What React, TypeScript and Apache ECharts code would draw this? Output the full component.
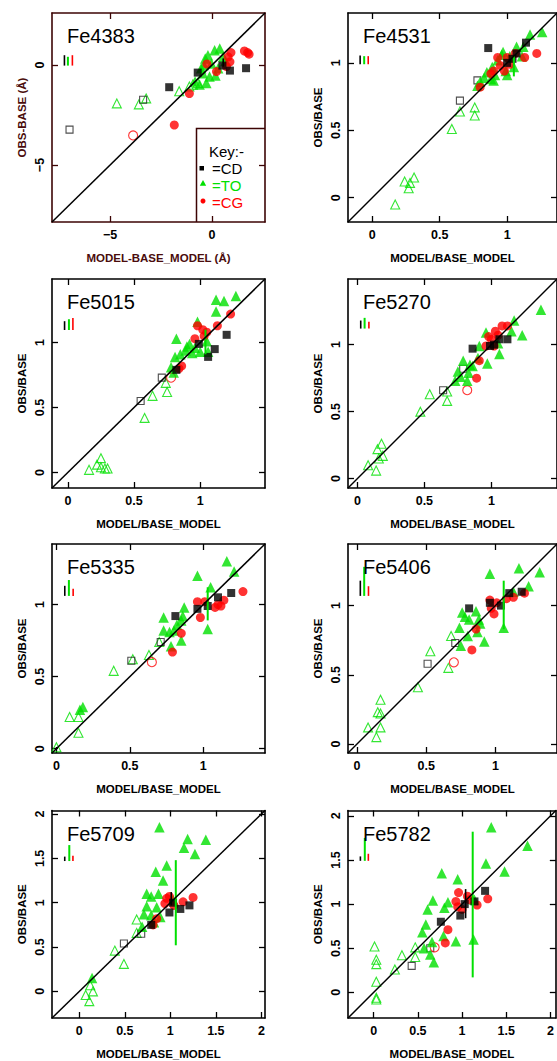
import React, { useEffect, useRef } from 'react';
import * as echarts from 'echarts';

const FONT = '"Liberation Sans", Arial, Helvetica, sans-serif';
const GREEN = '#00e000';
const RED = '#ff0000';
const BLACK = '#000000';
const MAROON = '#3c0404';
const MAROON_TXT = '#4a0c0c';

// ---------- panel meta ----------
const panelNames = ['Fe4383', 'Fe4531', 'Fe5015', 'Fe5270', 'Fe5335', 'Fe5406', 'Fe5709', 'Fe5782'];
const axisRanges = [
  [-7.85, 2.6], [-0.18, 1.37], [-0.12, 1.49], [-0.07, 1.49],
  [-0.03, 1.42], [-0.065, 1.445], [-0.3, 2.04], [-0.29, 2.06],
];
const tickValues = [
  [-5, 0], [0, 0.5, 1], [0, 0.5, 1], [0, 0.5, 1],
  [0, 0.5, 1], [0, 0.5, 1], [0, 0.5, 1, 1.5, 2], [0, 0.5, 1, 1.5, 2],
];
const xTitles = ['MODEL-BASE_MODEL (Å)', 'MODEL/BASE_MODEL', 'MODEL/BASE_MODEL', 'MODEL/BASE_MODEL',
  'MODEL/BASE_MODEL', 'MODEL/BASE_MODEL', 'MODEL/BASE_MODEL', 'MODEL/BASE_MODEL'];
const yTitles = ['OBS-BASE (Å)', 'OBS/BASE', 'OBS/BASE', 'OBS/BASE', 'OBS/BASE', 'OBS/BASE', 'OBS/BASE', 'OBS/BASE'];
const keyLabels = ['Key:-', '=CD', '=TO', '=CG'];

// ---------- data: CD = squares, TO = triangles, CG = circles; *Open = open symbols ----------
// error bars: [x, low, high, group(0=CD,1=TO,2=CG)]
const fe4383CD = [[-2.10, -1.11], [-0.70, -0.38], [0.51, -0.03], [0.88, -0.28], [1.67, -0.16]];
const fe4383CDOpen = [[-6.99, -3.23], [-3.38, -1.74]];
const fe4383TO = [[0.13, 0.74], [0.38, 0.82], [-0.20, 0.49], [0.55, 0.41], [-0.03, 0.08], [-0.40, 0.0], [-0.45, -0.41],
  [-0.12, -0.57], [0.17, -0.52], [-0.28, -0.90], [-0.61, -0.98], [-0.83, -0.82], [-0.53, -0.16], [0.30, -0.16], [0.66, 0.20], [-0.33, 0.33]];
const fe4383TOOpen = [[-4.67, -1.92], [-3.59, -1.97], [-3.23, -1.67], [-1.61, -1.31], [-1.11, -1.07], [-0.94, -0.98], [-0.70, -0.90]];
const fe4383CG = [[-1.11, -1.43], [-1.85, -3.0], [-0.25, 0.05], [0.22, -0.33], [0.79, 0.41], [0.93, 0.62], [0.88, 0.16],
  [1.59, 0.70], [1.75, 0.62], [1.82, 0.54], [0.71, -0.08]];
const fe4383CGOpen = [[-3.87, -3.52]];
const fe4383Err = [[-7.24, -0.03, 0.49, 0], [-7.07, -0.03, 0.41, 1], [-6.85, -0.03, 0.49, 2], [0.55, -0.08, 0.33, 0]];

const fe4531CD = [[0.86, 1.11], [1.0, 1.0], [1.04, 1.03], [1.07, 1.07], [1.14, 1.15]];
const fe4531CDOpen = [[0.65, 0.72], [0.78, 0.87]];
const fe4531TO = [[1.17, 1.21], [1.26, 1.23], [1.12, 1.12], [1.11, 1.05], [0.96, 1.06], [0.93, 1.02], [0.99, 0.94], [1.0, 0.91],
  [1.05, 0.97], [0.85, 0.93], [0.89, 0.97], [0.80, 0.86], [0.78, 0.83], [0.83, 0.89], [0.90, 0.87], [1.02, 1.05], [0.97, 1.08],
  [1.07, 1.12], [0.91, 0.91], [0.88, 0.88]];
const fe4531TOOpen = [[0.17, -0.05], [0.24, 0.12], [0.27, 0.07], [0.28, 0.11], [0.31, 0.15], [0.59, 0.51], [0.65, 0.64], [0.76, 0.67], [0.76, 0.61]];
const fe4531CG = [[1.22, 1.07], [1.13, 1.04], [0.95, 0.98], [0.98, 0.94], [1.06, 1.07], [0.93, 1.04], [0.90, 0.94], [0.80, 0.82],
  [1.02, 0.99], [1.0, 1.04], [0.88, 0.92]];
const fe4531CGOpen: number[][] = [];
const fe4531Err = [[-0.09, 0.99, 1.055, 0], [-0.06, 0.99, 1.05, 1], [-0.03, 0.99, 1.05, 2], [1.05, 0.9, 1.05, 1]];

const fe5015CD = [[0.82, 0.79], [0.99, 0.99], [1.06, 0.89], [1.11, 0.95], [1.20, 1.06]];
const fe5015CDOpen = [[0.55, 0.55], [0.71, 0.73]];
const fe5015TO = [[1.12, 1.33], [1.18, 1.32], [1.27, 1.36], [1.12, 1.24], [0.98, 1.16], [0.82, 1.03], [0.92, 0.99], [0.89, 0.94],
  [0.85, 0.91], [0.81, 0.89], [1.0, 0.93], [1.05, 1.01], [0.94, 0.92], [0.80, 0.77], [0.90, 0.97], [0.96, 0.96], [1.06, 0.93], [0.78, 0.81]];
const fe5015TOOpen = [[0.16, 0.02], [0.22, 0.06], [0.25, 0.11], [0.25, 0.04], [0.28, 0.03], [0.30, 0.03], [0.58, 0.42], [0.64, 0.59], [0.75, 0.62], [0.74, 0.69]];
const fe5015CG = [[1.23, 1.22], [1.13, 1.13], [1.02, 1.10], [1.05, 1.08], [0.96, 1.03], [0.86, 0.82], [0.84, 0.80], [0.98, 1.13], [1.03, 1.05]];
const fe5015CGOpen = [[0.78, 0.73]];
const fe5015Err = [[-0.025, 1.097, 1.165, 0], [0.008, 1.097, 1.18, 1], [0.038, 1.097, 1.19, 2], [1.04, 0.91, 1.10, 1]];

const fe5270CD = [[0.86, 0.97], [0.99, 0.99], [1.02, 1.0], [1.06, 1.04], [1.12, 1.04]];
const fe5270CDOpen = [[0.64, 0.66], [0.79, 0.82]];
const fe5270TO = [[1.37, 1.26], [1.23, 1.07], [1.17, 1.18], [1.15, 1.10], [1.06, 0.93], [0.97, 0.86], [0.91, 0.99], [0.96, 1.09],
  [0.90, 0.90], [0.86, 0.84], [0.82, 0.73], [0.73, 0.73], [0.75, 0.80], [0.79, 0.88], [0.84, 0.85], [1.05, 1.01], [0.83, 0.79], [0.77, 0.76]];
const fe5270TOOpen = [[0.08, 0.10], [0.14, 0.06], [0.15, 0.22], [0.18, 0.26], [0.16, 0.15], [0.19, 0.17], [0.47, 0.50], [0.54, 0.63], [0.67, 0.65], [0.67, 0.58]];
const fe5270CG = [[0.89, 0.75], [0.91, 0.88], [1.08, 1.14], [1.03, 1.10], [1.12, 1.14], [1.0, 1.04], [0.98, 1.06], [1.02, 0.99], [1.05, 1.07], [0.96, 0.99]];
const fe5270CGOpen = [[0.82, 0.66]];
const fe5270Err = [[0.025, 1.12, 1.18, 0], [0.054, 1.12, 1.2, 1], [0.086, 1.12, 1.17, 2]];

const fe5335CD = [[0.81, 0.92], [0.96, 0.97], [1.03, 0.99], [1.10, 1.05], [1.19, 1.08]];
const fe5335CDOpen = [[0.51, 0.61], [0.71, 0.74]];
const fe5335TO = [[1.16, 1.30], [1.21, 1.23], [0.96, 1.20], [1.05, 1.12], [1.03, 0.83], [0.73, 0.91], [0.87, 0.98], [0.85, 0.89],
  [0.82, 0.86], [0.73, 0.82], [0.77, 0.81], [0.78, 0.71], [0.85, 0.75], [0.80, 0.82], [0.86, 0.92], [0.18, 0.29], [0.16, 0.27]];
const fe5335TOOpen = [[0.0, 0.01], [0.09, 0.22], [0.15, 0.22], [0.15, 0.11], [0.39, 0.54], [0.52, 0.62], [0.63, 0.65], [0.70, 0.74]];
const fe5335CG = [[1.27, 1.09], [1.14, 1.03], [1.12, 0.99], [1.08, 0.98], [1.01, 1.02], [0.96, 1.02], [0.98, 0.91], [0.85, 0.80], [0.79, 0.67], [1.10, 1.0]];
const fe5335CGOpen = [[0.65, 0.60]];
const fe5335Err = [[0.057, 1.06, 1.13, 0], [0.085, 1.06, 1.17, 1], [0.114, 1.06, 1.11, 2], [1.03, 0.89, 1.12, 1]];

const fe5406CD = [[0.81, 0.98], [0.96, 1.02], [1.04, 1.0], [1.10, 1.09], [1.19, 1.10]];
const fe5406CDOpen = [[0.51, 0.58], [0.71, 0.73]];
const fe5406TO = [[0.96, 1.23], [1.17, 1.27], [1.32, 1.24], [1.24, 1.14], [1.06, 0.84], [0.76, 0.95], [0.78, 0.92], [0.81, 0.90],
  [0.74, 0.84], [0.86, 0.96], [0.88, 0.90], [0.87, 0.81], [0.92, 0.74], [0.80, 0.78], [0.75, 0.71], [0.89, 0.87], [1.13, 1.10]];
const fe5406TOOpen = [[0.08, 0.12], [0.14, 0.05], [0.15, 0.23], [0.17, 0.32], [0.17, 0.22], [0.17, 0.12], [0.44, 0.41], [0.53, 0.67], [0.66, 0.55], [0.68, 0.78]];
const fe5406CG = [[1.21, 1.09], [1.13, 1.06], [0.97, 0.98], [0.99, 0.94], [1.01, 1.02], [0.83, 0.68], [0.86, 0.83], [1.08, 1.05], [0.96, 1.04]];
const fe5406CGOpen = [[0.70, 0.59]];
const fe5406Err = [[0.024, 1.07, 1.18, 0], [0.052, 1.07, 1.28, 1], [0.083, 1.07, 1.14, 2], [1.06, 0.83, 1.18, 1]];

const fe5709CD = [[0.79, 0.75], [0.99, 0.89], [1.03, 1.0], [1.11, 0.93], [1.21, 0.97]];
const fe5709CDOpen = [[0.49, 0.54], [0.68, 0.65]];
const fe5709TO = [[0.88, 1.85], [1.19, 1.72], [1.39, 1.71], [1.15, 1.62], [1.27, 1.55], [0.96, 1.42], [0.84, 1.35], [0.92, 1.25],
  [0.74, 1.10], [0.79, 1.07], [0.87, 1.10], [0.74, 0.96], [0.85, 0.95], [0.71, 0.87], [0.79, 0.86], [0.89, 0.84], [0.69, 0.73],
  [1.03, 1.03], [0.82, 0.78], [0.14, 0.15]];
const fe5709TOOpen = [[0.07, -0.04], [0.11, -0.11], [0.15, 0.0], [0.12, 0.07], [0.39, 0.46], [0.49, 0.31], [0.63, 0.81], [0.63, 0.66]];
const fe5709CG = [[1.25, 1.06], [1.14, 1.01], [0.96, 1.05], [0.99, 1.07], [0.94, 0.99], [0.85, 0.82], [0.81, 0.75], [1.04, 0.97]];
const fe5709CGOpen: number[][] = [];
const fe5709Err = [[-0.16, 1.47, 1.52, 0], [-0.11, 1.47, 1.65, 1], [-0.07, 1.47, 1.53, 2], [1.06, 0.52, 1.48, 1], [1.01, 0.97, 1.12, 0]];

const fe5782CD = [[0.76, 0.80], [0.98, 0.87], [1.03, 1.0], [1.14, 1.03], [1.26, 1.15]];
const fe5782CDOpen = [[0.43, 0.30], [0.64, 0.50]];
const fe5782TO = [[1.33, 1.87], [1.74, 1.66], [1.27, 1.46], [1.48, 1.37], [0.77, 1.35], [0.95, 1.28], [0.67, 1.04], [0.84, 1.02],
  [0.80, 0.96], [0.61, 0.94], [0.59, 0.77], [0.55, 0.68], [0.66, 0.57], [0.79, 0.64], [0.93, 0.58], [0.57, 0.50], [0.64, 0.43],
  [0.68, 0.34], [1.13, 0.60], [1.14, 1.05]];
const fe5782TOOpen = [[0.01, 0.52], [0.03, 0.37], [0.03, 0.32], [0.03, 0.12], [0.03, -0.06], [0.03, -0.08], [0.24, 0.26], [0.32, 0.42], [0.47, 0.51], [0.47, 0.40]];
const fe5782CG = [[1.29, 1.06], [1.17, 0.99], [1.06, 1.09], [0.96, 1.13], [0.95, 0.97], [1.0, 0.94], [0.84, 0.71], [0.81, 0.56], [0.93, 1.03], [1.08, 1.05]];
const fe5782CGOpen = [[0.69, 0.51]];
const fe5782Err = [[-0.15, 1.49, 1.54, 0], [-0.10, 1.49, 1.75, 1], [-0.06, 1.49, 1.57, 2], [1.12, 0.17, 1.82, 1], [1.04, 0.84, 1.17, 0]];

const panelData = [
  [fe4383CD, fe4383CDOpen, fe4383TO, fe4383TOOpen, fe4383CG, fe4383CGOpen, fe4383Err],
  [fe4531CD, fe4531CDOpen, fe4531TO, fe4531TOOpen, fe4531CG, fe4531CGOpen, fe4531Err],
  [fe5015CD, fe5015CDOpen, fe5015TO, fe5015TOOpen, fe5015CG, fe5015CGOpen, fe5015Err],
  [fe5270CD, fe5270CDOpen, fe5270TO, fe5270TOOpen, fe5270CG, fe5270CGOpen, fe5270Err],
  [fe5335CD, fe5335CDOpen, fe5335TO, fe5335TOOpen, fe5335CG, fe5335CGOpen, fe5335Err],
  [fe5406CD, fe5406CDOpen, fe5406TO, fe5406TOOpen, fe5406CG, fe5406CGOpen, fe5406Err],
  [fe5709CD, fe5709CDOpen, fe5709TO, fe5709TOOpen, fe5709CG, fe5709CGOpen, fe5709Err],
  [fe5782CD, fe5782CDOpen, fe5782TO, fe5782TOOpen, fe5782CG, fe5782CGOpen, fe5782Err],
];

// ---------- layout ----------
const COL_LEFT = [52, 348];
const ROW_TOP = [13, 279, 544, 810.5];
const GW = 213;
const GH = 209;
const W = 557;
const H = 1061;

const groupColors = [BLACK, GREEN, RED];

function fmt(v: number) {
  return String(v).replace('-', '\u2212');
}

function buildOption() {
  const grid: any[] = [];
  const xAxis: any[] = [];
  const yAxis: any[] = [];
  const series: any[] = [];
  const title: any[] = [];

  panelNames.forEach((name, i) => {
    const col = i % 2;
    const row = Math.floor(i / 2);
    const left = COL_LEFT[col];
    const top = ROW_TOP[row];
    const [mn, mx] = axisRanges[i];
    const ticks = tickValues[i];
    const frame = i === 0 ? MAROON : BLACK;
    const nameColor = i === 0 ? MAROON_TXT : BLACK;

    grid.push({ left, top, width: GW, height: GH, show: false });

    const lineStyle = { color: frame, width: 1.6 };
    const tickStyle = { color: frame, width: 1.3 };
    const nameStyle = { fontFamily: FONT, fontSize: 11.5, fontWeight: 'bold', color: nameColor };
    const labelStyle = { fontFamily: FONT, fontSize: 12.5, fontWeight: 'bold', color: '#000', formatter: fmt };

    xAxis.push({
      gridIndex: i, type: 'value', min: mn, max: mx, position: 'bottom',
      axisLine: { show: true, onZero: false, lineStyle },
      axisTick: { show: true, inside: true, length: 6, customValues: ticks, lineStyle: tickStyle },
      axisLabel: { show: true, customValues: ticks, margin: 6, ...labelStyle },
      splitLine: { show: false },
      name: xTitles[i], nameLocation: 'middle', nameGap: 30, nameTextStyle: nameStyle,
    });
    xAxis.push({
      gridIndex: i, type: 'value', min: mn, max: mx, position: 'top',
      axisLine: { show: true, onZero: false, lineStyle },
      axisTick: { show: true, inside: true, length: 6, customValues: ticks, lineStyle: tickStyle },
      axisLabel: { show: false },
      splitLine: { show: false },
    });
    yAxis.push({
      gridIndex: i, type: 'value', min: mn, max: mx, position: 'left',
      axisLine: { show: true, onZero: false, lineStyle },
      axisTick: { show: true, inside: true, length: 6, customValues: ticks, lineStyle: tickStyle },
      axisLabel: { show: true, customValues: ticks, rotate: 90, margin: 6, ...labelStyle },
      splitLine: { show: false },
      name: yTitles[i], nameLocation: 'middle', nameGap: 24, nameTextStyle: nameStyle,
    });
    yAxis.push({
      gridIndex: i, type: 'value', min: mn, max: mx, position: 'right',
      axisLine: { show: true, onZero: false, lineStyle },
      axisTick: { show: true, inside: true, length: 6, customValues: ticks, lineStyle: tickStyle },
      axisLabel: { show: false },
      splitLine: { show: false },
    });

    title.push({
      text: name, left: left + 10, top: top + 8,
      textStyle: { fontFamily: FONT, fontSize: 20, fontWeight: 'normal', color: '#000' },
    });

    const xi = i * 2;
    const yi = i * 2;
    const [cd, cdOpen, to, toOpen, cg, cgOpen, err] = panelData[i];

    series.push({
      type: 'scatter', xAxisIndex: xi, yAxisIndex: yi, data: toOpen, symbol: 'triangle', symbolSize: 9,
      itemStyle: { color: 'transparent', borderColor: GREEN, borderWidth: 1.1 }, z: 2,
    });
    series.push({
      type: 'scatter', xAxisIndex: xi, yAxisIndex: yi, data: cdOpen, symbol: 'rect', symbolSize: 7,
      itemStyle: { color: 'transparent', borderColor: '#222', borderWidth: 1.1 }, z: 2,
    });
    series.push({
      type: 'scatter', xAxisIndex: xi, yAxisIndex: yi, data: cgOpen, symbol: 'circle', symbolSize: 9,
      itemStyle: { color: 'transparent', borderColor: RED, borderWidth: 1.1 }, z: 2,
    });
    series.push({
      type: 'scatter', xAxisIndex: xi, yAxisIndex: yi, data: to, symbol: 'triangle', symbolSize: 10.5,
      itemStyle: { color: GREEN }, z: 3,
    });
    series.push({
      type: 'scatter', xAxisIndex: xi, yAxisIndex: yi, data: cg, symbol: 'circle', symbolSize: 9,
      itemStyle: { color: RED }, z: 3,
    });
    series.push({
      type: 'scatter', xAxisIndex: xi, yAxisIndex: yi, data: cd, symbol: 'rect', symbolSize: 8,
      itemStyle: { color: BLACK }, z: 4,
    });
    series.push({
      type: 'custom', xAxisIndex: xi, yAxisIndex: yi, data: err, z: 5,
      encode: { x: 0, y: [1, 2] },
      renderItem: (params: any, api: any) => {
        const x = api.value(0);
        const p1 = api.coord([x, api.value(1)]);
        const p2 = api.coord([x, api.value(2)]);
        const g = api.value(3);
        return {
          type: 'line',
          shape: { x1: p1[0], y1: p1[1], x2: p2[0], y2: p2[1] },
          style: { stroke: groupColors[g], lineWidth: g === 1 ? 2 : 1.6 },
        };
      },
    });
    series.push({
      type: 'line', xAxisIndex: xi, yAxisIndex: yi, data: [[mn, mn], [mx, mx]],
      symbol: 'none', lineStyle: { color: BLACK, width: 1.5 }, z: 6, silent: true,
    });
  });

  // key box in first panel (left and top edges; right/bottom are the panel frame)
  const kx = 196.5;
  const ky = 128.5;
  const kr = COL_LEFT[0] + GW;
  const kb = ROW_TOP[0] + GH;
  const graphic: any[] = [
    { type: 'polyline', shape: { points: [[kx, kb], [kx, ky], [kr, ky]] }, style: { fill: 'none', stroke: MAROON, lineWidth: 1.5 }, z: 100 },
    { type: 'text', x: 209, y: 151, style: { text: keyLabels[0], fontFamily: FONT, fontSize: 15, fill: '#000', verticalAlign: 'middle' }, z: 100 },
    { type: 'rect', shape: { x: 199.5, y: 166, width: 4.5, height: 4.5 }, style: { fill: BLACK }, z: 100 },
    { type: 'text', x: 212, y: 168, style: { text: keyLabels[1], fontFamily: FONT, fontSize: 15, fill: '#000', verticalAlign: 'middle' }, z: 100 },
    { type: 'polygon', shape: { points: [[203, 180], [206.2, 185.7], [199.8, 185.7]] }, style: { fill: GREEN }, z: 100 },
    { type: 'text', x: 212, y: 185, style: { text: keyLabels[2], fontFamily: FONT, fontSize: 15, fill: GREEN, verticalAlign: 'middle' }, z: 100 },
    { type: 'circle', shape: { cx: 203, cy: 201, r: 2.5 }, style: { fill: RED }, z: 100 },
    { type: 'text', x: 212, y: 202, style: { text: keyLabels[3], fontFamily: FONT, fontSize: 15, fill: RED, verticalAlign: 'middle' }, z: 100 },
  ];

  return {
    animation: false,
    backgroundColor: '#ffffff',
    title,
    grid,
    xAxis,
    yAxis,
    series,
    graphic,
  };
}

export default function App() {
  const ref = useRef<HTMLDivElement>(null);
  useEffect(() => {
    if (!ref.current) return;
    const chart = echarts.init(ref.current, undefined, { renderer: 'svg', width: W, height: H });
    chart.setOption(buildOption() as any);
    return () => chart.dispose();
  }, []);
  return (
    <div style={{ position: 'absolute', left: 0, top: 0, width: W, height: H, overflow: 'hidden', background: '#fff' }}>
      <div ref={ref} style={{ width: W, height: H }} />
    </div>
  );
}
